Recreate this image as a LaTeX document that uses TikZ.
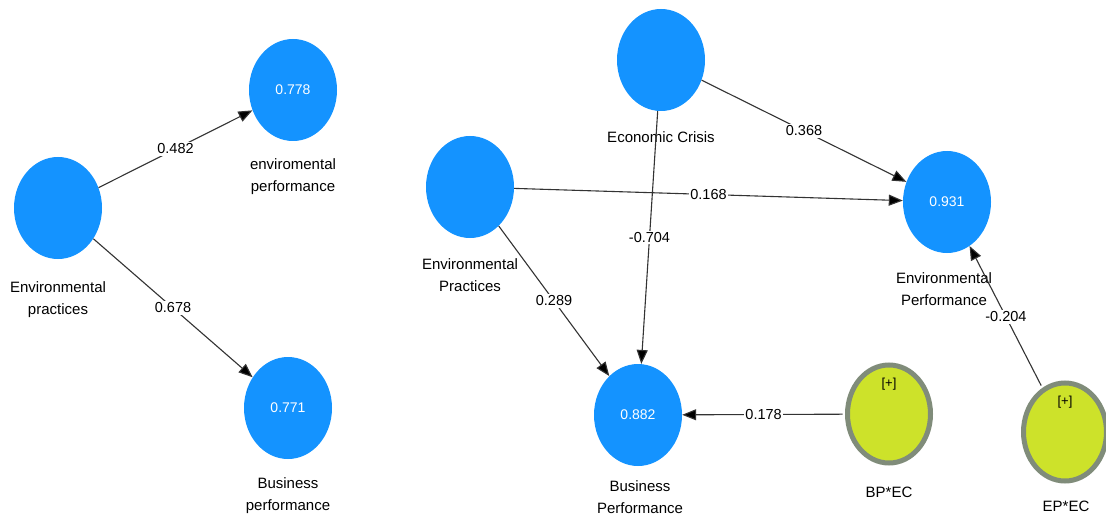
\documentclass[tikz,border=0pt]{standalone}
\usepackage{fontspec}
\setmainfont{Liberation Sans}
\usetikzlibrary{shapes.geometric,arrows.meta}
\definecolor{lvblue}{RGB}{20,147,255}
\definecolor{lvgreen}{RGB}{205,226,42}
\definecolor{lvrim}{RGB}{128,140,122}
\tikzset{
  latent/.style={ellipse,fill=lvblue,minimum width=88pt,minimum height=102pt,inner sep=0pt,text=white,font=\fontsize{14}{16}\selectfont},
  moder/.style={ellipse,fill=lvgreen,draw=lvrim,line width=5pt,minimum width=83pt,minimum height=98pt,inner sep=0pt},
  lvname/.style={align=center,font=\fontsize{15}{22}\selectfont,inner sep=1pt},
  effect/.style={draw=black!80,line width=1.1pt,-{Triangle[length=14pt,width=11pt,fill=black]}},
  coef/.style={fill=white,inner sep=1.5pt,font=\fontsize{14.5}{16}\selectfont},
}

\begin{document}
\begin{tikzpicture}[x=1pt,y=-1pt]
            \useasboundingbox (0,0) rectangle (1106,516);
            % simple model
            \node[latent] (epl) at (58,208) {};
            \node[latent] (envl) at (293,90) {0.778};
            \node[latent] (busl) at (288,408) {0.771};
            \node[lvname] (epl-name) at (58,300) {Environmental\\practices};
            \node[lvname] (envl-name) at (293,177) {enviromental\\performance};
            \node[lvname] (busl-name) at (288,496) {Business\\performance};
            \draw[effect] (epl)--node[coef]{0.482}(envl);
            \draw[effect] (epl)--node[coef]{0.678}(busl);
            % moderated model
            \node[latent] (ec) at (661,60) {};
            \node[latent] (ep) at (470,187) {};
            \node[latent] (envp) at (947,202) {0.931};
            \node[latent] (busp) at (638,415) {0.882};
            \node[moder] (bpec) at (889,414) {};
            \node[moder] (epec) at (1065,432) {};
            \node (bpec-plus) at ([yshift=-22pt]bpec.north) {\fontsize{13}{15}\selectfont[+]};
            \node (epec-plus) at ([yshift=-22pt]epec.north) {\fontsize{13}{15}\selectfont[+]};
            \node[lvname] (ec-name) at (661,137) {Economic Crisis};
            \node[lvname] (ep-name) at (470,275) {Environmental\\Practices};
            \node[lvname] (envp-name) at (944,289) {Environmental\\Performance};
            \node[lvname] (busp-name) at (640,497) {Business\\Performance};
            \node[lvname] (bpec-name) at (889,492) {BP*EC};
            \node[lvname] (epec-name) at (1066,506) {EP*EC};
            \draw[effect] (ec)--node[coef]{0.368}(envp);
            \draw[effect] (ep)--node[coef]{0.168}(envp);
            \draw[effect] (ec)--node[coef]{-0.704}(busp);
            \draw[effect] (ep)--node[coef]{0.289}(busp);
            \draw[effect,shorten <=2.5pt] (bpec)--node[coef]{0.178}(busp);
            \draw[effect,shorten <=2.5pt] (epec)--node[coef]{-0.204}(envp);
        \end{tikzpicture}
\end{document}
